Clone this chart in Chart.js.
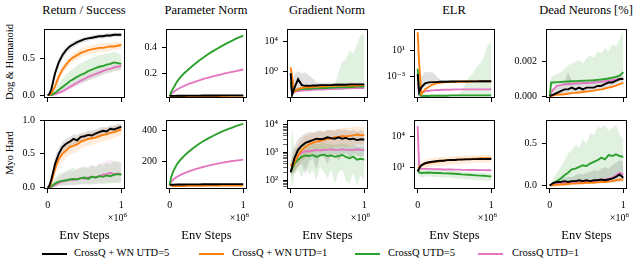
<!DOCTYPE html>
<html>
<head>
<meta charset="utf-8">
<script src="https://cdn.jsdelivr.net/npm/chart.js"></script>
<style>
  body { margin: 0; background: #fff; }
  #fig { position: relative; width: 640px; height: 263px; overflow: hidden;
         font-family: "Liberation Serif", "DejaVu Serif", serif; color: #000; }
  #fig canvas { position: absolute; }
  .t { position: absolute; white-space: nowrap; line-height: 1; }
  .title { font-size: 12.5px; transform: translateX(-50%); top: 4px; }
  .row { font-size: 10.5px; transform: translate(-50%, -50%) rotate(-90deg); }
  .xl { font-size: 12.5px; transform: translateX(-50%); top: 229px; }
  .mult { font-size: 10px; transform: translateX(-100%); top: 212px; }
  .mult sup { font-size: 7px; vertical-align: 4px; }
  .leg { font-size: 10.5px; top: 248px; }
  .lline { position: absolute; height: 2px; width: 25px; top: 253px; }
</style>
</head>
<body>
<div id="fig">
  <div class="t title" style="left:84px">Return / Success</div>
  <div class="t title" style="left:206px">Parameter Norm</div>
  <div class="t title" style="left:327px">Gradient Norm</div>
  <div class="t title" style="left:454px">ELR</div>
  <div class="t title" style="left:586px">Dead Neurons [%]</div>
  <div class="t row" style="left:10px; top:62px">Dog &amp; Humanoid</div>
  <div class="t row" style="left:10px; top:153px">Myo Hard</div>

  <div class="lline" style="left:42px; background:#000000"></div>
  <div class="t leg" style="left:74px">CrossQ + WN UTD=5</div>
  <div class="lline" style="left:199px; background:#ff7f0e"></div>
  <div class="t leg" style="left:232px">CrossQ + WN UTD=1</div>
  <div class="lline" style="left:355px; background:#2ca02c"></div>
  <div class="t leg" style="left:388px">CrossQ UTD=5</div>
  <div class="lline" style="left:478px; background:#e377c2"></div>
  <div class="t leg" style="left:512px">CrossQ UTD=1</div>
</div>
<script>
// env steps (x 1e6) shared by every series
const steps = [0, 0.02, 0.05, 0.1, 0.15, 0.2, 0.25, 0.3, 0.35, 0.4, 0.45, 0.5, 0.55, 0.6, 0.65, 0.7, 0.75, 0.8, 0.85, 0.9, 0.95, 1.0];

// ---- Return / Success, Dog & Humanoid
const retDH_wn5 = [0, 0.01, 0.08, 0.3, 0.45, 0.55, 0.62, 0.67, 0.7, 0.73, 0.75, 0.77, 0.78, 0.79, 0.8, 0.81, 0.81, 0.82, 0.82, 0.83, 0.83, 0.83];
const retDH_wn1 = [0, 0, 0.02, 0.12, 0.25, 0.35, 0.42, 0.48, 0.52, 0.55, 0.58, 0.6, 0.62, 0.63, 0.64, 0.65, 0.65, 0.66, 0.67, 0.67, 0.68, 0.69];
const retDH_q5 = [0, 0, 0, 0.03, 0.07, 0.11, 0.15, 0.19, 0.22, 0.25, 0.28, 0.3, 0.33, 0.35, 0.37, 0.39, 0.4, 0.42, 0.43, 0.45, 0.44, 0.43];
const retDH_q1 = [0, 0, 0, 0.01, 0.03, 0.05, 0.08, 0.11, 0.14, 0.17, 0.2, 0.22, 0.25, 0.27, 0.29, 0.31, 0.33, 0.35, 0.36, 0.38, 0.39, 0.4];
const retDH_wn5_hi = [0, 0.03, 0.13, 0.36, 0.5, 0.6, 0.66, 0.71, 0.74, 0.76, 0.78, 0.8, 0.81, 0.82, 0.83, 0.84, 0.84, 0.85, 0.85, 0.86, 0.86, 0.86];
const retDH_wn5_lo = [0, 0, 0.04, 0.24, 0.39, 0.49, 0.57, 0.62, 0.66, 0.69, 0.71, 0.73, 0.75, 0.76, 0.77, 0.78, 0.78, 0.79, 0.79, 0.8, 0.8, 0.8];
const retDH_wn1_hi = [0, 0.01, 0.05, 0.18, 0.31, 0.41, 0.48, 0.54, 0.58, 0.61, 0.64, 0.66, 0.68, 0.69, 0.7, 0.71, 0.71, 0.72, 0.72, 0.72, 0.73, 0.73];
const retDH_wn1_lo = [0, 0, 0, 0.07, 0.19, 0.29, 0.36, 0.42, 0.46, 0.49, 0.52, 0.54, 0.56, 0.57, 0.58, 0.59, 0.6, 0.6, 0.61, 0.62, 0.63, 0.64];
const retDH_q5_hi = [0, 0, 0.02, 0.08, 0.15, 0.22, 0.28, 0.33, 0.37, 0.41, 0.44, 0.46, 0.49, 0.51, 0.53, 0.55, 0.56, 0.57, 0.58, 0.6, 0.58, 0.55];
const retDH_q5_lo = [0, 0, 0, 0.01, 0.03, 0.05, 0.07, 0.1, 0.12, 0.14, 0.16, 0.18, 0.2, 0.22, 0.24, 0.26, 0.28, 0.3, 0.31, 0.33, 0.34, 0.34];
const retDH_q1_hi = [0, 0.01, 0.02, 0.04, 0.07, 0.1, 0.13, 0.16, 0.19, 0.22, 0.25, 0.27, 0.3, 0.32, 0.34, 0.36, 0.38, 0.4, 0.41, 0.43, 0.44, 0.45];
const retDH_q1_lo = [0, 0, 0, 0, 0.01, 0.02, 0.04, 0.07, 0.1, 0.12, 0.15, 0.17, 0.2, 0.22, 0.24, 0.26, 0.28, 0.3, 0.31, 0.33, 0.34, 0.35];

// ---- Parameter Norm, Dog & Humanoid
const pnDH_wn5 = [0.03, 0.031, 0.031, 0.032, 0.032, 0.032, 0.033, 0.033, 0.033, 0.033, 0.034, 0.034, 0.034, 0.034, 0.034, 0.035, 0.035, 0.035, 0.035, 0.035, 0.035, 0.035];
const pnDH_wn1 = [0.03, 0.029, 0.028, 0.028, 0.028, 0.029, 0.029, 0.029, 0.029, 0.029, 0.03, 0.03, 0.03, 0.03, 0.03, 0.03, 0.03, 0.031, 0.031, 0.031, 0.031, 0.031];
const pnDH_q5 = [0.03, 0.06, 0.09, 0.14, 0.175, 0.205, 0.23, 0.255, 0.278, 0.3, 0.32, 0.34, 0.358, 0.375, 0.392, 0.408, 0.423, 0.438, 0.452, 0.466, 0.479, 0.49];
const pnDH_q1 = [0.03, 0.045, 0.06, 0.08, 0.095, 0.108, 0.12, 0.13, 0.14, 0.149, 0.158, 0.166, 0.174, 0.181, 0.188, 0.195, 0.202, 0.208, 0.214, 0.22, 0.226, 0.232];

// ---- Gradient Norm, Dog & Humanoid (log10 values)
const gnDH_wn5 = [-0.3, -3.2, -2.3, -1.1, -1.9, -2.0, -2.0, -1.95, -1.95, -1.9, -1.9, -1.9, -1.9, -1.85, -1.85, -1.85, -1.85, -1.8, -1.8, -1.8, -1.8, -1.8];
const gnDH_wn1 = [0.5, -0.8, -2.8, -2.4, -2.3, -2.2, -2.2, -2.15, -2.1, -2.1, -2.05, -2.05, -2.0, -2.0, -2.0, -2.0, -1.95, -1.95, -1.95, -1.95, -1.9, -1.9];
const gnDH_q5 = [-1.5, -3.0, -2.6, -2.5, -2.45, -2.4, -2.4, -2.35, -2.35, -2.3, -2.3, -2.3, -2.25, -2.25, -2.2, -2.2, -2.2, -2.15, -2.15, -2.1, -2.1, -2.1];
const gnDH_q1 = [-2.0, -3.2, -2.8, -2.7, -2.65, -2.6, -2.6, -2.55, -2.5, -2.5, -2.5, -2.45, -2.45, -2.4, -2.4, -2.4, -2.35, -2.35, -2.3, -2.3, -2.3, -2.3];
const gnDH_wn5_hi = [0.3, -1.5, -0.5, 0.0, -0.3, -0.2, -0.6, -1.0, -1.5, -1.6, -1.6, -1.6, -1.6, -1.6, -1.6, -1.6, -1.6, -1.6, -1.6, -1.6, -1.6, -1.6];
const gnDH_wn5_lo = [-1.0, -3.4, -3.0, -2.6, -2.3, -2.3, -2.2, -2.2, -2.15, -2.1, -2.1, -2.1, -2.1, -2.05, -2.05, -2.05, -2.05, -2.0, -2.0, -2.0, -2.0, -2.0];
const gnDH_q5_hi = [-1.2, -2.8, -2.3, -2.2, -2.2, -2.1, -2.1, -2.1, -2.05, -2.0, -2.0, -2.0, -2.0, -1.9, -0.2, 1.3, 1.6, 2.8, 2.4, 3.6, 4.9, 5.2];
const gnDH_q5_lo = [-1.8, -3.2, -2.9, -2.8, -2.7, -2.7, -2.65, -2.6, -2.6, -2.55, -2.55, -2.55, -2.5, -2.5, -2.45, -2.45, -2.45, -2.4, -2.4, -2.4, -2.35, -2.35];

// ---- ELR, Dog & Humanoid (log10)
const elrDH_wn5 = [-2.6, -5.3, -4.6, -4.0, -3.85, -3.8, -3.8, -3.75, -3.75, -3.75, -3.72, -3.72, -3.7, -3.7, -3.7, -3.7, -3.7, -3.7, -3.68, -3.68, -3.68, -3.68];
const elrDH_wn1 = [3.7, -1.0, -5.6, -4.9, -4.5, -4.2, -4.0, -3.9, -3.85, -3.8, -3.8, -3.78, -3.75, -3.75, -3.75, -3.72, -3.72, -3.7, -3.7, -3.7, -3.7, -3.7];
const elrDH_q5 = [-1.8, -5.6, -5.9, -5.9, -5.9, -5.85, -5.85, -5.85, -5.85, -5.85, -5.8, -5.8, -5.8, -5.8, -5.8, -5.8, -5.8, -5.8, -5.8, -5.8, -5.8, -5.8];
const elrDH_q1 = [-4.0, -5.7, -5.4, -5.2, -5.1, -5.05, -5.0, -5.0, -4.95, -4.95, -4.95, -4.9, -4.9, -4.9, -4.9, -4.9, -4.9, -4.9, -4.9, -4.9, -4.9, -4.9];
const elrDH_wn5_hi = [-2.0, -4.0, -3.0, -2.2, -2.3, -2.3, -2.8, -3.4, -3.5, -3.5, -3.5, -3.5, -3.5, -3.5, -3.5, -3.5, -3.5, -3.5, -3.5, -3.5, -3.5, -3.5];
const elrDH_wn5_lo = [-3.2, -5.8, -5.0, -4.5, -4.2, -4.1, -4.0, -4.0, -3.95, -3.95, -3.95, -3.9, -3.9, -3.9, -3.9, -3.9, -3.9, -3.9, -3.9, -3.9, -3.9, -3.9];
const elrDH_q5_hi = [-1.5, -5.3, -5.6, -5.6, -5.6, -5.6, -5.6, -5.6, -5.6, -5.6, -5.6, -5.6, -5.6, -5.2, -4.0, -3.0, -2.5, -1.5, -1.0, 0.0, 1.8, 2.2];
const elrDH_q5_lo = [-2.2, -6.0, -6.1, -6.1, -6.1, -6.1, -6.1, -6.1, -6.1, -6.1, -6.1, -6.1, -6.1, -6.1, -6.1, -6.1, -6.1, -6.1, -6.1, -6.1, -6.1, -6.1];

// ---- Dead Neurons, Dog & Humanoid
const dnDH_wn5 = [0, 5e-5, 1e-4, 2e-4, 3e-4, 4e-4, 4e-4, 5e-4, 4e-4, 5e-4, 4e-4, 5e-4, 5e-4, 5e-4, 6e-4, 6e-4, 7e-4, 8e-4, 8e-4, 9e-4, 1e-3, 1e-3];
const dnDH_wn1 = [0, 0, 5e-5, 1e-4, 1e-4, 1.2e-4, 1.5e-4, 1.8e-4, 2e-4, 2.2e-4, 2.5e-4, 2.8e-4, 3e-4, 3.3e-4, 3.7e-4, 4e-4, 4.5e-4, 5e-4, 5.5e-4, 6.2e-4, 7e-4, 7.8e-4];
const dnDH_q5 = [0, 8e-4, 8e-4, 8.2e-4, 8.3e-4, 8.5e-4, 8.6e-4, 8.7e-4, 8.8e-4, 8.9e-4, 9e-4, 9.1e-4, 9.2e-4, 9.3e-4, 9.5e-4, 9.7e-4, 1e-3, 1.03e-3, 1.08e-3, 1.12e-3, 1.2e-3, 1.4e-3];
const dnDH_q1 = [0, 2e-4, 4e-4, 6e-4, 6.5e-4, 7e-4, 7e-4, 7.2e-4, 7.4e-4, 7.5e-4, 7.6e-4, 7.7e-4, 7.8e-4, 8e-4, 8.2e-4, 8.4e-4, 8.7e-4, 9e-4, 9.3e-4, 9.7e-4, 1e-3, 1.02e-3];
const dnDH_wn5_hi = [2e-4, 4e-4, 5e-4, 6e-4, 7e-4, 8e-4, 1.4e-3, 9e-4, 9e-4, 9e-4, 9e-4, 9e-4, 9e-4, 1e-3, 1e-3, 1e-3, 1e-3, 1.1e-3, 1.1e-3, 1.2e-3, 1.2e-3, 1.2e-3];
const dnDH_wn5_lo = [0, 0, 0, 5e-5, 1e-4, 1.5e-4, 2e-4, 2e-4, 2e-4, 2e-4, 2.2e-4, 2.5e-4, 3e-4, 3e-4, 3.5e-4, 4e-4, 4.5e-4, 5e-4, 6e-4, 7e-4, 8e-4, 8e-4];
const dnDH_q5_hi = [2e-4, 1.1e-3, 1.2e-3, 1.3e-3, 1.4e-3, 1.6e-3, 1.8e-3, 1.9e-3, 2e-3, 2.1e-3, 1.9e-3, 2.2e-3, 2.4e-3, 2.2e-3, 2.6e-3, 2.5e-3, 2.8e-3, 2.6e-3, 3e-3, 2.9e-3, 3.3e-3, 3.8e-3];
const dnDH_q5_lo = [0, 6e-4, 6e-4, 6e-4, 6e-4, 6.2e-4, 6.3e-4, 6.4e-4, 6.5e-4, 6.6e-4, 6.7e-4, 6.8e-4, 7e-4, 7e-4, 7.2e-4, 7.4e-4, 7.6e-4, 7.8e-4, 8e-4, 8.2e-4, 8.8e-4, 1e-3];

// ---- Return / Success, Myo Hard
const retMyo_wn5 = [0, 0.02, 0.12, 0.35, 0.5, 0.6, 0.65, 0.68, 0.72, 0.7, 0.75, 0.76, 0.78, 0.77, 0.8, 0.82, 0.84, 0.83, 0.87, 0.86, 0.88, 0.9];
const retMyo_wn1 = [0, 0.01, 0.08, 0.28, 0.42, 0.5, 0.55, 0.6, 0.62, 0.64, 0.68, 0.7, 0.72, 0.73, 0.74, 0.76, 0.78, 0.79, 0.81, 0.82, 0.84, 0.86];
const retMyo_q5 = [0, 0, 0.02, 0.06, 0.09, 0.1, 0.11, 0.12, 0.13, 0.12, 0.14, 0.15, 0.13, 0.16, 0.15, 0.17, 0.16, 0.18, 0.17, 0.19, 0.2, 0.19];
const retMyo_q1 = [0, 0, 0.01, 0.04, 0.07, 0.09, 0.1, 0.12, 0.11, 0.13, 0.14, 0.13, 0.15, 0.16, 0.15, 0.17, 0.19, 0.2, 0.22, 0.2, 0.21, 0.2];
const retMyo_wn5_hi = [0, 0.05, 0.2, 0.45, 0.58, 0.68, 0.72, 0.75, 0.79, 0.78, 0.81, 0.82, 0.84, 0.84, 0.86, 0.88, 0.9, 0.89, 0.92, 0.92, 0.94, 0.95];
const retMyo_wn5_lo = [0, 0, 0.06, 0.25, 0.42, 0.52, 0.58, 0.61, 0.65, 0.63, 0.69, 0.7, 0.72, 0.71, 0.74, 0.76, 0.78, 0.77, 0.82, 0.8, 0.82, 0.85];
const retMyo_wn1_hi = [0, 0.03, 0.15, 0.38, 0.52, 0.6, 0.65, 0.7, 0.72, 0.74, 0.77, 0.79, 0.81, 0.82, 0.83, 0.85, 0.87, 0.88, 0.9, 0.9, 0.92, 0.93];
const retMyo_wn1_lo = [0, 0, 0.03, 0.18, 0.3, 0.38, 0.44, 0.49, 0.51, 0.53, 0.58, 0.6, 0.62, 0.63, 0.65, 0.67, 0.69, 0.7, 0.72, 0.74, 0.76, 0.78];
const retMyo_q5_hi = [0, 0.02, 0.06, 0.14, 0.2, 0.22, 0.25, 0.27, 0.3, 0.26, 0.3, 0.32, 0.28, 0.33, 0.31, 0.35, 0.33, 0.37, 0.35, 0.4, 0.38, 0.36];
const retMyo_q5_lo = [0, 0, 0, 0.01, 0.02, 0.03, 0.03, 0.04, 0.04, 0.04, 0.05, 0.05, 0.04, 0.05, 0.05, 0.06, 0.05, 0.06, 0.06, 0.07, 0.07, 0.07];
const retMyo_q1_hi = [0, 0.01, 0.04, 0.1, 0.16, 0.2, 0.22, 0.26, 0.24, 0.28, 0.3, 0.28, 0.32, 0.34, 0.3, 0.36, 0.38, 0.4, 0.42, 0.38, 0.4, 0.38];
const retMyo_q1_lo = [0, 0, 0, 0.01, 0.02, 0.03, 0.03, 0.04, 0.04, 0.05, 0.05, 0.05, 0.06, 0.06, 0.06, 0.07, 0.07, 0.08, 0.08, 0.08, 0.08, 0.08];

// ---- Parameter Norm, Myo Hard
const pnMyo_wn5 = [45, 46, 46, 47, 47, 47, 48, 48, 48, 48, 49, 49, 49, 49, 49, 50, 50, 50, 50, 50, 50, 50];
const pnMyo_wn1 = [45, 40, 38, 38, 38, 38, 39, 39, 39, 39, 39, 40, 40, 40, 40, 40, 40, 40, 41, 41, 41, 41];
const pnMyo_q5 = [45, 95, 135, 180, 210, 235, 257, 277, 295, 312, 327, 341, 354, 366, 378, 389, 399, 409, 418, 427, 435, 442];
const pnMyo_q1 = [45, 65, 80, 98, 110, 121, 131, 139, 147, 154, 161, 167, 173, 178, 183, 188, 192, 196, 200, 203, 206, 209];

// ---- Gradient Norm, Myo Hard (log10)
const gnMyo_wn5 = [2.3, 2.5, 2.8, 3.1, 3.25, 3.35, 3.4, 3.45, 3.5, 3.48, 3.5, 3.55, 3.52, 3.5, 3.55, 3.5, 3.53, 3.48, 3.5, 3.45, 3.48, 3.47];
const gnMyo_wn1 = [2.6, 2.5, 2.65, 2.9, 3.1, 3.2, 3.3, 3.35, 3.4, 3.42, 3.45, 3.5, 3.5, 3.55, 3.55, 3.6, 3.58, 3.6, 3.62, 3.65, 3.63, 3.63];
const gnMyo_q5 = [2.3, 2.4, 2.6, 2.75, 2.85, 2.9, 2.88, 2.92, 2.85, 2.9, 2.93, 2.88, 2.9, 2.85, 2.88, 2.92, 2.85, 2.8, 2.86, 2.75, 2.78, 2.75];
const gnMyo_q1 = [2.3, 2.5, 2.7, 2.9, 3.0, 3.05, 3.05, 3.08, 3.1, 3.08, 3.1, 3.1, 3.12, 3.1, 3.1, 3.12, 3.1, 3.1, 3.1, 3.12, 3.1, 3.1];
const gnMyo_wn5_hi = [2.5, 2.9, 3.2, 3.5, 3.6, 3.7, 3.75, 3.72, 3.78, 3.8, 3.75, 3.82, 3.8, 3.78, 3.85, 3.8, 3.83, 3.78, 3.82, 3.75, 3.8, 3.78];
const gnMyo_wn5_lo = [2.1, 2.2, 2.3, 2.5, 2.6, 2.2, 2.7, 2.8, 2.4, 2.9, 2.85, 2.6, 2.9, 2.95, 2.7, 2.9, 3.0, 2.8, 2.95, 2.9, 2.85, 2.9];
const gnMyo_wn1_hi = [2.8, 2.8, 3.0, 3.3, 3.5, 3.6, 3.65, 3.7, 3.72, 3.75, 3.78, 3.8, 3.82, 3.85, 3.85, 3.9, 3.88, 3.9, 3.92, 3.95, 3.93, 3.92];
const gnMyo_wn1_lo = [2.4, 2.3, 2.3, 2.5, 2.7, 2.8, 2.9, 3.0, 3.05, 3.1, 3.1, 3.15, 3.15, 3.2, 3.2, 3.25, 3.2, 3.25, 3.28, 3.3, 3.3, 3.3];
const gnMyo_q5_hi = [2.8, 3.9, 3.1, 3.2, 3.25, 3.3, 3.3, 3.35, 3.3, 3.32, 3.35, 3.3, 3.33, 3.28, 3.3, 3.35, 3.3, 3.25, 3.3, 3.2, 3.22, 3.2];
const gnMyo_q5_lo = [2.0, 1.8, 2.2, 2.4, 2.1, 2.5, 2.2, 2.4, 2.0, 2.5, 2.3, 2.1, 2.4, 1.9, 2.3, 2.4, 2.0, 1.9, 2.3, 1.8, 2.2, 2.0];

// ---- ELR, Myo Hard (log10)
const elrMyo_wn5 = [0.6, 0.9, 1.2, 1.4, 1.5, 1.55, 1.6, 1.65, 1.65, 1.7, 1.72, 1.72, 1.75, 1.75, 1.78, 1.78, 1.8, 1.8, 1.82, 1.8, 1.82, 1.82];
const elrMyo_wn1 = [1.0, 1.0, 1.2, 1.35, 1.45, 1.5, 1.55, 1.6, 1.65, 1.68, 1.7, 1.75, 1.78, 1.8, 1.82, 1.82, 1.85, 1.85, 1.88, 1.88, 1.9, 1.9];
const elrMyo_q5 = [0.8, 0.5, 0.45, 0.48, 0.5, 0.48, 0.45, 0.45, 0.42, 0.42, 0.4, 0.38, 0.35, 0.32, 0.3, 0.28, 0.25, 0.22, 0.2, 0.18, 0.15, 0.12];
const elrMyo_q1 = [5.0, 0.9, 0.85, 0.85, 0.85, 0.83, 0.82, 0.82, 0.8, 0.8, 0.8, 0.78, 0.78, 0.76, 0.76, 0.75, 0.75, 0.74, 0.73, 0.73, 0.72, 0.72];
const elrMyo_wn1_hi = [1.3, 1.5, 1.6, 1.75, 1.85, 1.9, 1.95, 2.0, 2.0, 2.05, 2.05, 2.1, 2.1, 2.12, 2.15, 2.15, 2.15, 2.18, 2.2, 2.2, 2.2, 2.2];
const elrMyo_wn1_lo = [0.6, 0.5, 0.7, 0.9, 1.0, 1.05, 1.1, 1.15, 1.2, 1.2, 1.25, 1.3, 1.3, 1.35, 1.35, 1.4, 1.4, 1.45, 1.45, 1.45, 1.5, 1.5];
const elrMyo_q5_hi = [1.0, 0.8, 0.75, 0.8, 0.85, 0.8, 0.78, 0.75, 0.72, 0.72, 0.7, 0.68, 0.65, 0.6, 0.58, 0.55, 0.52, 0.5, 0.48, 0.45, 0.42, 0.4];
const elrMyo_q5_lo = [0.5, 0.1, 0.0, 0.1, 0.15, 0.1, 0.05, 0.05, 0.0, 0.05, 0.0, -0.05, -0.1, -0.1, -0.15, -0.15, -0.2, -0.25, -0.25, -0.3, -0.3, -0.35];

// ---- Dead Neurons, Myo Hard
const dnMyo_wn5 = [0, 0.01, 0.03, 0.04, 0.04, 0.05, 0.04, 0.05, 0.05, 0.06, 0.05, 0.06, 0.05, 0.06, 0.06, 0.07, 0.06, 0.07, 0.08, 0.1, 0.13, 0.09];
const dnMyo_wn1 = [0, 0, 0, 0.005, 0.01, 0.01, 0.015, 0.02, 0.02, 0.025, 0.025, 0.03, 0.03, 0.03, 0.035, 0.04, 0.04, 0.045, 0.05, 0.06, 0.07, 0.07];
const dnMyo_q5 = [0, 0.005, 0.02, 0.05, 0.08, 0.12, 0.15, 0.19, 0.2, 0.22, 0.24, 0.23, 0.26, 0.28, 0.3, 0.33, 0.31, 0.36, 0.35, 0.37, 0.35, 0.34];
const dnMyo_q1 = [0, 0, 0.01, 0.02, 0.02, 0.03, 0.03, 0.03, 0.04, 0.04, 0.04, 0.05, 0.05, 0.05, 0.06, 0.06, 0.07, 0.08, 0.09, 0.12, 0.15, 0.13];
const dnMyo_wn5_hi = [0, 0.02, 0.05, 0.07, 0.08, 0.09, 0.1, 0.1, 0.12, 0.14, 0.13, 0.15, 0.16, 0.18, 0.17, 0.2, 0.22, 0.2, 0.24, 0.27, 0.3, 0.28];
const dnMyo_wn5_lo = [0, 0, 0.01, 0.01, 0.01, 0.02, 0.02, 0.02, 0.02, 0.02, 0.02, 0.02, 0.02, 0.03, 0.03, 0.03, 0.03, 0.03, 0.03, 0.04, 0.04, 0.04];
const dnMyo_q5_hi = [0, 0.02, 0.08, 0.15, 0.22, 0.3, 0.38, 0.42, 0.48, 0.45, 0.55, 0.5, 0.62, 0.6, 0.7, 0.68, 0.72, 0.65, 0.68, 0.72, 0.6, 0.55];
const dnMyo_q5_lo = [0, 0, 0, 0.01, 0.02, 0.03, 0.04, 0.05, 0.05, 0.06, 0.06, 0.06, 0.07, 0.07, 0.08, 0.08, 0.08, 0.09, 0.09, 0.1, 0.1, 0.1];

const BLACK = '#000000', ORANGE = '#ff7f0e', GREEN = '#2ca02c', PINK = '#e377c2';

// plot box geometry
const colLeft = [44, 166, 287, 414, 546];
const rowTop = [26, 117];
const boxW = 81, boxH = 72;
const PADL = 42, PADT = 8, PADR = 8, PADB = 24;

Chart.defaults.font.family = '"Liberation Serif", "DejaVu Serif", serif';
Chart.defaults.font.size = 10;
Chart.defaults.color = '#000';

const fig = document.getElementById('fig');

function alpha(hex, a) {
  const n = parseInt(hex.slice(1), 16);
  return `rgba(${n >> 16},${(n >> 8) & 255},${n & 255},${a})`;
}
function pts(ys, exp) {
  return steps.map((x, i) => ({x: x, y: exp ? Math.pow(10, ys[i]) : ys[i]}));
}
const SUP = {'0':'⁰','1':'¹','2':'²','3':'³','4':'⁴','5':'⁵','6':'⁶','7':'⁷','8':'⁸','9':'⁹','-':'⁻'};
function pow10(v) {
  return '10' + String(Math.round(Math.log10(v))).split('').map(c => SUP[c]).join('');
}

const boxPlugin = {
  id: 'box',
  afterDraw(chart) {
    const a = chart.chartArea, ctx = chart.ctx;
    ctx.save();
    ctx.strokeStyle = '#000';
    ctx.lineWidth = 1;
    ctx.strokeRect(Math.round(a.left) + 0.5, Math.round(a.top) + 0.5,
                   Math.round(a.right - a.left) - 1, Math.round(a.bottom - a.top) - 1);
    ctx.restore();
  }
};

function panel(p) {
  const cv = document.createElement('canvas');
  cv.width = PADL + boxW + PADR;
  cv.height = PADT + boxH + PADB;
  cv.style.left = (colLeft[p.col] - PADL) + 'px';
  cv.style.top = (rowTop[p.row] - PADT) + 'px';
  fig.appendChild(cv);

  const datasets = [];
  p.lines.forEach(([ys, col]) => datasets.push({
    data: pts(ys, p.log), borderColor: col, borderWidth: 1.9, pointRadius: 0,
    fill: false, tension: 0, order: 0
  }));
  (p.bands || []).forEach(([hi, lo, col]) => {
    const a = col === BLACK ? 0.12 : 0.15;
    datasets.push({data: pts(hi, p.log), borderWidth: 0, borderColor: 'rgba(0,0,0,0)',
                   backgroundColor: alpha(col, a), pointRadius: 0, fill: '+1', order: 1});
    datasets.push({data: pts(lo, p.log), borderWidth: 0, borderColor: 'rgba(0,0,0,0)',
                   pointRadius: 0, fill: false, order: 1});
  });

  const allTicks = p.ticks.concat(p.minor || []);
  new Chart(cv, {
    type: 'line',
    data: {datasets},
    options: {
      responsive: false, animation: false, devicePixelRatio: 1,
      layout: {padding: {top: PADT, right: PADR, left: 0, bottom: 0}},
      plugins: {legend: {display: false}, tooltip: {enabled: false}},
      scales: {
        x: {
          type: 'linear', min: -0.05, max: 1.05,
          afterBuildTicks: s => { s.ticks = [{value: 0}, {value: 1}]; },
          afterFit: s => { s.height = PADB; },
          ticks: {autoSkip: false, maxRotation: 0, padding: 6,
                  callback: v => p.row === 1 ? String(v) : ''},
          grid: {drawOnChartArea: false, color: '#000', tickLength: 4},
          border: {display: false}
        },
        y: {
          type: p.log ? 'logarithmic' : 'linear', min: p.min, max: p.max,
          afterBuildTicks: s => { s.ticks = allTicks.map(v => ({value: v})); },
          afterFit: s => { s.width = PADL; },
          ticks: {autoSkip: false, padding: 5,
                  callback: v => p.ticks.includes(v) ? p.fmt(v) : ''},
          grid: {drawOnChartArea: false, color: '#000', tickLength: 4,
                 tickWidth: c => (c.tick && p.ticks.includes(c.tick.value)) ? 1 : 0.6},
          border: {display: false}
        }
      }
    },
    plugins: [boxPlugin]
  });
}

const f1 = v => v.toFixed(1), f3 = v => v.toFixed(3), f0 = v => String(v);

// Dog & Humanoid row
panel({col: 0, row: 0, min: -0.04, max: 0.91, ticks: [0, 0.5], fmt: f1,
  lines: [[retDH_wn5, BLACK], [retDH_wn1, ORANGE], [retDH_q5, GREEN], [retDH_q1, PINK]],
  bands: [[retDH_wn5_hi, retDH_wn5_lo, BLACK], [retDH_wn1_hi, retDH_wn1_lo, ORANGE],
          [retDH_q5_hi, retDH_q5_lo, GREEN], [retDH_q1_hi, retDH_q1_lo, PINK]]});
panel({col: 1, row: 0, min: 0.015, max: 0.54, ticks: [0.2, 0.4], fmt: f1,
  lines: [[pnDH_wn5, BLACK], [pnDH_wn1, ORANGE], [pnDH_q5, GREEN], [pnDH_q1, PINK]]});
panel({col: 2, row: 0, log: true, min: Math.pow(10, -3.65), max: Math.pow(10, 5.7), ticks: [1, 1e4], fmt: pow10,
  lines: [[gnDH_wn5, BLACK], [gnDH_wn1, ORANGE], [gnDH_q5, GREEN], [gnDH_q1, PINK]],
  bands: [[gnDH_wn5_hi, gnDH_wn5_lo, BLACK], [gnDH_q5_hi, gnDH_q5_lo, GREEN]]});
panel({col: 3, row: 0, log: true, min: Math.pow(10, -6.2), max: Math.pow(10, 4.2), ticks: [1e-3, 10], fmt: pow10,
  lines: [[elrDH_wn5, BLACK], [elrDH_wn1, ORANGE], [elrDH_q5, GREEN], [elrDH_q1, PINK]],
  bands: [[elrDH_wn5_hi, elrDH_wn5_lo, BLACK], [elrDH_q5_hi, elrDH_q5_lo, GREEN]]});
panel({col: 4, row: 0, min: -0.0001, max: 0.0039, ticks: [0, 0.002], fmt: f3,
  lines: [[dnDH_wn5, BLACK], [dnDH_wn1, ORANGE], [dnDH_q5, GREEN], [dnDH_q1, PINK]],
  bands: [[dnDH_wn5_hi, dnDH_wn5_lo, BLACK], [dnDH_q5_hi, dnDH_q5_lo, GREEN]]});

// Myo Hard row
panel({col: 0, row: 1, min: -0.02, max: 1.0, ticks: [0, 0.5, 1], fmt: f1,
  lines: [[retMyo_wn5, BLACK], [retMyo_wn1, ORANGE], [retMyo_q5, GREEN], [retMyo_q1, PINK]],
  bands: [[retMyo_wn5_hi, retMyo_wn5_lo, BLACK], [retMyo_wn1_hi, retMyo_wn1_lo, ORANGE],
          [retMyo_q5_hi, retMyo_q5_lo, GREEN], [retMyo_q1_hi, retMyo_q1_lo, PINK]]});
panel({col: 1, row: 1, min: 18, max: 467, ticks: [200, 400], fmt: f0,
  lines: [[pnMyo_wn5, BLACK], [pnMyo_wn1, ORANGE], [pnMyo_q5, GREEN], [pnMyo_q1, PINK]]});
panel({col: 2, row: 1, log: true, min: Math.pow(10, 1.7), max: Math.pow(10, 4.17), ticks: [100, 1000, 10000], fmt: pow10,
  minor: [60, 70, 80, 90, 200, 300, 400, 500, 600, 700, 800, 900, 2000, 3000, 4000, 5000, 6000, 7000, 8000, 9000],
  lines: [[gnMyo_wn5, BLACK], [gnMyo_wn1, ORANGE], [gnMyo_q5, GREEN], [gnMyo_q1, PINK]],
  bands: [[gnMyo_wn5_hi, gnMyo_wn5_lo, BLACK], [gnMyo_wn1_hi, gnMyo_wn1_lo, ORANGE], [gnMyo_q5_hi, gnMyo_q5_lo, GREEN]]});
panel({col: 3, row: 1, log: true, min: Math.pow(10, -1.1), max: Math.pow(10, 5.6), ticks: [10, 1e4], fmt: pow10,
  lines: [[elrMyo_wn5, BLACK], [elrMyo_wn1, ORANGE], [elrMyo_q5, GREEN], [elrMyo_q1, PINK]],
  bands: [[elrMyo_wn1_hi, elrMyo_wn1_lo, ORANGE], [elrMyo_q5_hi, elrMyo_q5_lo, GREEN]]});
panel({col: 4, row: 1, min: -0.044, max: 0.78, ticks: [0, 0.5], fmt: f1,
  lines: [[dnMyo_wn5, BLACK], [dnMyo_wn1, ORANGE], [dnMyo_q5, GREEN], [dnMyo_q1, PINK]],
  bands: [[dnMyo_wn5_hi, dnMyo_wn5_lo, BLACK], [dnMyo_q5_hi, dnMyo_q5_lo, GREEN]]});

// x-axis labels under each column
colLeft.forEach(l => {
  const m = document.createElement('div');
  m.className = 't mult';
  m.style.left = (l + boxW + 2) + 'px';
  m.innerHTML = '×10<sup>6</sup>';
  fig.appendChild(m);
  const e = document.createElement('div');
  e.className = 't xl';
  e.style.left = (l + boxW / 2) + 'px';
  e.textContent = 'Env Steps';
  fig.appendChild(e);
});
</script>
</body>
</html>
